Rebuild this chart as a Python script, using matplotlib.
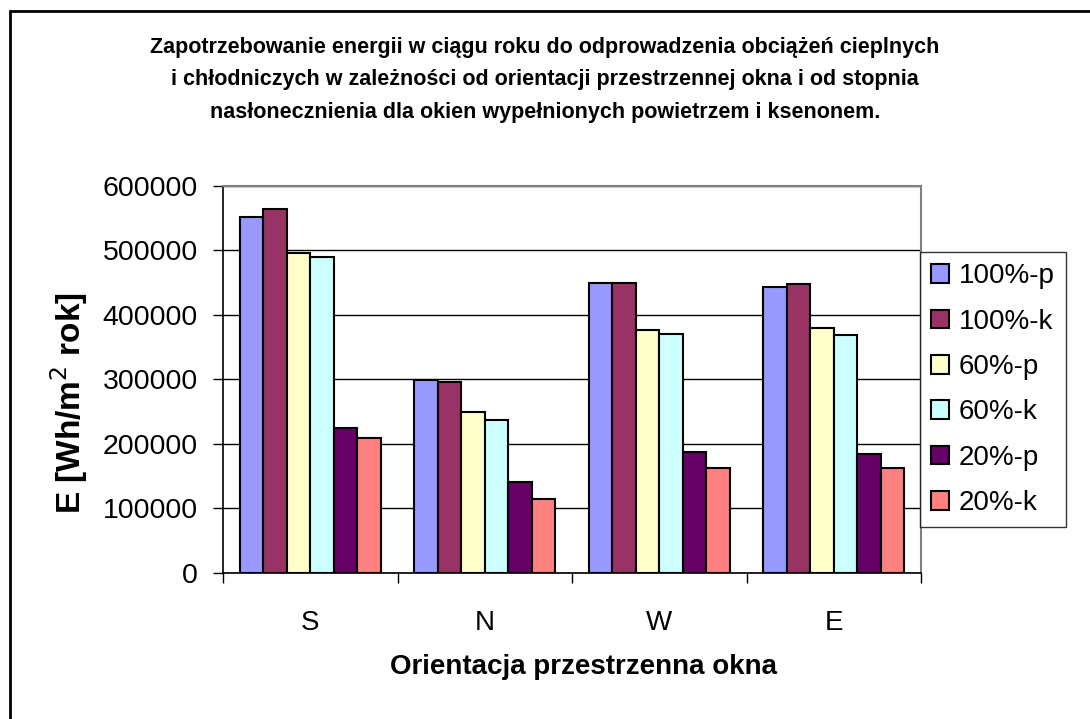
import matplotlib
matplotlib.use("Agg")
import matplotlib.pyplot as plt
import matplotlib.patches as mpatches
import numpy as np

plt.rcParams['font.family'] = ['Liberation Sans', 'DejaVu Sans']

# orientacja okna
categories = ["S", "N", "W", "E"]
series_names = ["100%-p", "100%-k", "60%-p", "60%-k", "20%-p", "20%-k"]
colors = ["#9999FF", "#993366", "#FFFFCC", "#CCFFFF", "#660066", "#FF8080"]

# E [Wh/m2 rok] for S, N, W, E
v_100p = [551000, 299000, 449600, 443400]
v_100k = [563000, 295600, 449600, 447000]
v_60p = [495600, 249100, 375700, 378800]
v_60k = [489400, 236700, 369500, 369000]
v_20p = [224800, 141600, 188100, 185000]
v_20k = [209800, 114200, 163300, 163300]
values = [v_100p, v_100k, v_60p, v_60k, v_20p, v_20k]

title = ("Zapotrzebowanie energii w ciągu roku do odprowadzenia obciążeń cieplnych\n"
         "i chłodniczych w zależności od orientacji przestrzennej okna i od stopnia\n"
         "nasłonecznienia dla okien wypełnionych powietrzem i ksenonem.")

fig = plt.figure(figsize=(10.9, 7.19), dpi=100)
ax = fig.add_axes([223/1090, 1 - 573/719, (921 - 223)/1090, (573 - 185.5)/719])

x = np.arange(len(categories))
w = 0.135
for i, (name, vals) in enumerate(zip(series_names, values)):
    ax.bar(x + (i - 2.5) * w, vals, width=w, color=colors[i], edgecolor="black",
           linewidth=1.5, label=name, zorder=3)

ax.set_xlim(-0.5, 3.5)
ax.set_ylim(0, 600000)
ax.set_yticks(np.arange(0, 600001, 100000))
ax.yaxis.grid(True, color="black", linewidth=1, zorder=0)
ax.set_axisbelow(True)

ax.set_xticks(x)
ax.set_xticklabels(categories)
ax.set_xticks(np.arange(-0.5, 4, 1), minor=True)
ax.tick_params(axis="x", which="major", length=0, pad=27, labelsize=20)
ax.tick_params(axis="x", which="minor", length=7, width=1, color="black", direction="out")
ax.tick_params(axis="y", length=7, width=1, direction="out", labelsize=20.5, pad=11)

for side in ["top", "right"]:
    ax.spines[side].set_color("#808080")
    ax.spines[side].set_linewidth(1.5)
ax.spines["left"].set_linewidth(1.2)
ax.spines["bottom"].set_linewidth(1.2)

ax.set_ylabel("E [Wh/m$^2$ rok]", fontsize=24, fontweight="bold")
ax.yaxis.set_label_coords(-0.19, 0.439)
ax.set_xlabel("Orientacja przestrzenna okna", fontsize=20, fontweight="bold")
ax.xaxis.set_label_coords(0.516, -0.21)

fig.text(0.5, 1 - 80/719, title, ha="center", va="center", fontsize=15.5,
         fontweight="bold", linespacing=1.72)

leg = ax.legend(loc="upper left", bbox_to_anchor=(920/1090, 1 - 252/719),
                bbox_transform=fig.transFigure, borderaxespad=0, fontsize=20,
                frameon=True, fancybox=False, handlelength=0.65, handleheight=0.65,
                handletextpad=0.35, labelspacing=0.7, borderpad=0.4)
leg.get_frame().set_edgecolor("black")
leg.get_frame().set_linewidth(1)
for h in leg.legend_handles:
    h.set_linewidth(1.5)

# outer chart border
fig.patches.append(mpatches.Rectangle((10/1090, -0.1), 2, 1 - 11/719 + 0.1,
                                      transform=fig.transFigure, fill=False,
                                      edgecolor="black", linewidth=2))

fig.savefig("out.png", dpi=100)
